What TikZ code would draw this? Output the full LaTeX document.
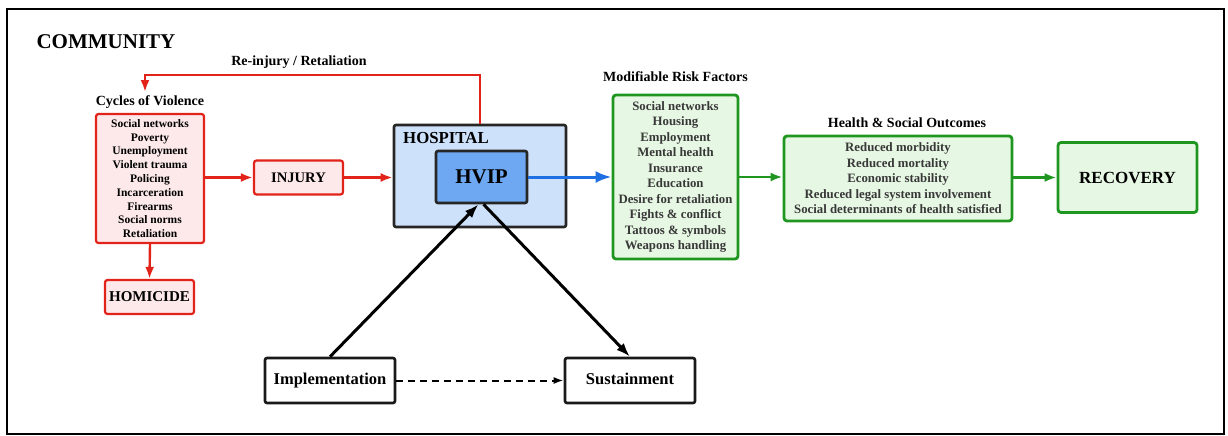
\documentclass[tikz,border=0pt]{standalone}
\usepackage{fontspec}
\setmainfont{Liberation Serif}
\usetikzlibrary{arrows.meta}

\definecolor{vred}{HTML}{E2231A}
\definecolor{vpink}{HTML}{FDE9E9}
\definecolor{hosblue}{HTML}{CDE1FA}
\definecolor{hvblue}{HTML}{6EA8F2}
\definecolor{arblue}{HTML}{1E70E2}
\definecolor{vgreen}{HTML}{1F961F}
\definecolor{lgreen}{HTML}{E6F7E3}
\definecolor{gtext}{HTML}{383838}

\newcommand{\fs}[2]{\fontsize{#1}{#2}\selectfont}

\begin{document}
\begin{tikzpicture}[x=1pt,y=-1pt,>=Latex,font=\bfseries,
  redbox/.style={draw=vred,line width=2.2pt,fill=vpink,rounded corners=2.5pt,
    align=center,inner sep=0pt},
  grnbox/.style={draw=vgreen,line width=2.8pt,fill=lgreen,rounded corners=3pt,
    align=center,inner sep=0pt,text=gtext},
  blkbox/.style={draw=black!90,line width=2.6pt,fill=white,rounded corners=2pt,
    inner sep=0pt,text height=11.5pt,text depth=3.5pt,font=\bfseries\fs{16.5}{19}},
  redline/.style={draw=vred,line width=2.4pt,-{Latex[length=12pt,width=9pt]}},
  grnline/.style={draw=vgreen,line width=2.6pt,-{Latex[length=12pt,width=9pt]}},
  blkline/.style={draw=black,line width=3pt,-{Latex[length=14pt,width=10pt]}},
  lbl/.style={font=\bfseries\fs{14}{16}}]
  \useasboundingbox (0,0) rectangle (1228,436);
  \draw[line width=1.8pt] (7,9) rectangle (1224,434);

  \node[anchor=west,font=\bfseries\fs{21}{24}] (comm) at (33,42) {COMMUNITY};

  % cycles of violence
  \node[redbox,minimum width=108pt,minimum height=129pt,font=\bfseries\fs{11.5}{13.8}]
    (cycle) at (150,178.5) {Social networks\\Poverty\\Unemployment\\Violent trauma\\
    Policing\\Incarceration\\Firearms\\Social norms\\Retaliation};
  \node[lbl] (cyclbl) at (150,102) {Cycles of Violence};
  \node[redbox,minimum width=89pt,minimum height=34pt,font=\bfseries\fs{15}{17}]
    (homic) at (149.5,297) {HOMICIDE};
  \node[redbox,minimum width=89pt,minimum height=34pt,font=\bfseries\fs{14.6}{17}]
    (injury) at (298.5,177.5) {INJURY};

  % hospital
  \node[draw=black!85,line width=2.6pt,fill=hosblue,rounded corners=2pt,
    minimum width=172pt,minimum height=102pt,inner sep=0pt] (hosp) at (480,176) {};
  \node[anchor=base west,font=\bfseries\fs{16.8}{19},inner sep=0pt] (hoslbl)
    at (403,143) {HOSPITAL};
  \node[draw=black!85,line width=2.6pt,fill=hvblue,rounded corners=2pt,
    minimum width=91pt,minimum height=52pt,inner sep=0pt,font=\bfseries\fs{21}{24}]
    (hvip) at (481.5,177) {HVIP};

  % risk factors and outcomes
  \node[grnbox,minimum width=125pt,minimum height=164pt,font=\bfseries\fs{12.8}{15.5}]
    (risk) at (675.5,177) {Social networks\\Housing\\Employment\\Mental health\\
    Insurance\\Education\\Desire for retaliation\\Fights \& conflict\\
    Tattoos \& symbols\\Weapons handling};
  \node[lbl] (risklbl) at (675.5,77) {Modifiable Risk Factors};
  \node[grnbox,minimum width=228pt,minimum height=85pt,font=\bfseries\fs{12.8}{15.5}]
    (outc) at (898,178.5) {Reduced morbidity\\Reduced mortality\\Economic stability\\
    Reduced legal system involvement\\Social determinants of health satisfied};
  \node[lbl] (outclbl) at (907,123) {Health \& Social Outcomes};
  \node[grnbox,text=black,minimum width=139pt,minimum height=70pt,
    font=\bfseries\fs{17}{20}] (recov) at (1127.5,177.5) {RECOVERY};

  % implementation
  \node[blkbox,minimum width=130pt,minimum height=45pt] (impl) at (330,380.5)
    {Implementation};
  \node[blkbox,minimum width=130pt,minimum height=45pt] (sust) at (630,380.5)
    {Sustainment};

  \coordinate (turn) at (145,75);
  \node[lbl] (reinj) at (299,62) {Re-injury / Retaliation};
  \draw[redline] (hosp.north) |- (turn) -- (turn |- cyclbl.north);
  \draw[redline] (cycle.east |- injury) -- (injury.west);
  \draw[redline] (injury.east) -- (hosp.west |- injury);
  \draw[redline] (cycle.south) -- (homic.north);

  \draw[draw=arblue,line width=3pt,-{Latex[length=16pt,width=12pt]}]
    (hvip.east) -- (risk.west |- hvip.east);
  \draw[grnline] (risk.east) -- (outc.west |- risk.east);
  \draw[grnline] (outc.east |- recov) -- (recov.west);

  \draw[blkline] (impl.north) -- ([xshift=-3pt]hvip.south);
  \draw[blkline] ([xshift=2pt]hvip.south) -- (sust.north);
  \draw[line width=2pt,dash pattern=on 7pt off 5pt,-{Latex[length=10pt,width=7pt]}]
    (impl.east) -- (sust.west);
\end{tikzpicture}
\end{document}
